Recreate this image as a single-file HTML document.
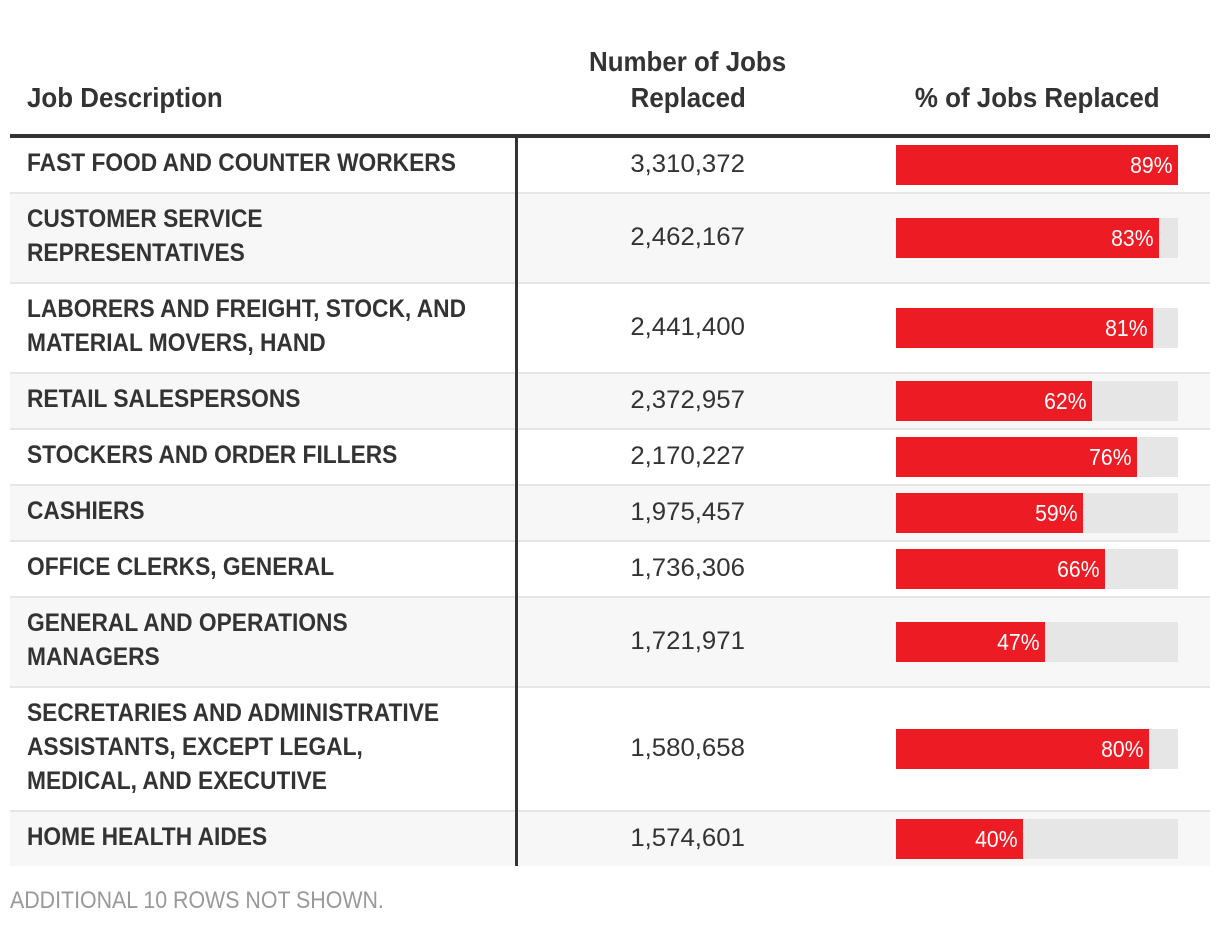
<!DOCTYPE html>
<html><head><meta charset="utf-8">
<style>
body{margin:0;width:1220px;height:928px;background:#fff;position:relative;overflow:hidden;font-family:"Liberation Sans",sans-serif;color:#333}
.a{position:absolute}
.c{display:inline-block;transform:scaleX(0.91);transform-origin:left center;white-space:nowrap}
.hc{display:inline-block;transform:scaleX(0.925);transform-origin:left center;white-space:nowrap}
.cc{display:inline-block;transform:scaleX(0.925);transform-origin:center center;white-space:nowrap}
.h{font-weight:bold;font-size:28px;color:#333;line-height:36px}
.job{font-weight:bold;font-size:25px;line-height:34px;color:#333}
.num{font-size:25px;color:#333}
</style></head>
<body>
<div class="a h" style="left:27px;top:80px"><span class="hc">Job Description</span></div>
<div class="a h" style="left:540px;width:296px;top:44px;text-align:center"><span class="cc">Number of Jobs</span><br><span class="cc">Replaced</span></div>
<div class="a h" style="left:880px;width:314px;top:80px;text-align:center"><span class="cc">% of Jobs Replaced</span></div>
<div class="a" style="left:10px;top:134px;width:1200px;height:4px;background:#333"></div>
<div id="rows"></div>
<div class="a" style="left:515px;top:138px;width:3px;height:728px;background:#333"></div>
<div class="a" style="left:10px;top:887px;font-size:24px;color:#999"><span style="display:inline-block;transform:scaleX(0.89);transform-origin:left center;white-space:nowrap">ADDITIONAL 10 ROWS NOT SHOWN.</span></div>
<script>
const jobs=[["FAST FOOD AND COUNTER WORKERS"],["CUSTOMER SERVICE","REPRESENTATIVES"],["LABORERS AND FREIGHT, STOCK, AND","MATERIAL MOVERS, HAND"],["RETAIL SALESPERSONS"],["STOCKERS AND ORDER FILLERS"],["CASHIERS"],["OFFICE CLERKS, GENERAL"],["GENERAL AND OPERATIONS","MANAGERS"],["SECRETARIES AND ADMINISTRATIVE","ASSISTANTS, EXCEPT LEGAL,","MEDICAL, AND EXECUTIVE"],["HOME HEALTH AIDES"]];
const counts=[3310372,2462167,2441400,2372957,2170227,1975457,1736306,1721971,1580658,1574601];
const pcts=[89,83,81,62,76,59,66,47,80,40];
const host=document.getElementById('rows');
const maxP=Math.max(...pcts);
const trackX=896,trackW=282;
let y=138;
jobs.forEach((lines,i)=>{
  const h=Math.max(54,lines.length*34+20);
  const row=document.createElement('div');
  
  
  row.className='a';
  row.style.cssText=`left:10px;top:${y}px;width:1200px;height:${h}px;background:${i%2?'#f7f7f7':'#fff'}`;
  host.appendChild(row);
  const mid=h/2;
  const jt=document.createElement('div');
  
  
  jt.className='a job';
  jt.style.cssText=`left:17px;top:${mid-lines.length*17-2}px`;
  jt.innerHTML=lines.map(l=>`<span class="c">${l}</span>`).join('<br>');
  row.appendChild(jt);
  const nt=document.createElement('div');
  
  
  nt.className='a num';
  nt.style.cssText=`left:530px;width:296px;text-align:center;top:${mid-17}px;line-height:32px`;
  nt.innerHTML=`<span style="display:inline-block;transform:scaleX(1.03);white-space:nowrap">${counts[i].toLocaleString('en-US')}</span>`;
  row.appendChild(nt);
  const tr=document.createElement('div');
  
  
  tr.className='a';
  tr.style.cssText=`left:${trackX-10}px;top:${mid-20}px;width:${trackW}px;height:40px;background:#e6e6e6`;
  row.appendChild(tr);
  const bw=trackW*pcts[i]/maxP;
  const b=document.createElement('div');
  
  
  b.className='a';
  b.style.cssText=`left:0;top:0;width:${bw}px;height:40px;background:#ed1c24;color:#fff;font-size:23px;line-height:40px;text-align:right`;
  b.innerHTML=`<span style="display:inline-block;transform:scaleX(0.92);transform-origin:right center;padding-right:6px">${pcts[i]}%</span>`;
  tr.appendChild(b);
  y+=h;
  if(i<jobs.length-1){
    const s=document.createElement('div');
    
    
    s.className='a';
    s.style.cssText=`left:10px;top:${y}px;width:1200px;height:2px;background:#e6e6e6`;
    host.appendChild(s);
    y+=2;
  }
});
</script>
</body></html>
